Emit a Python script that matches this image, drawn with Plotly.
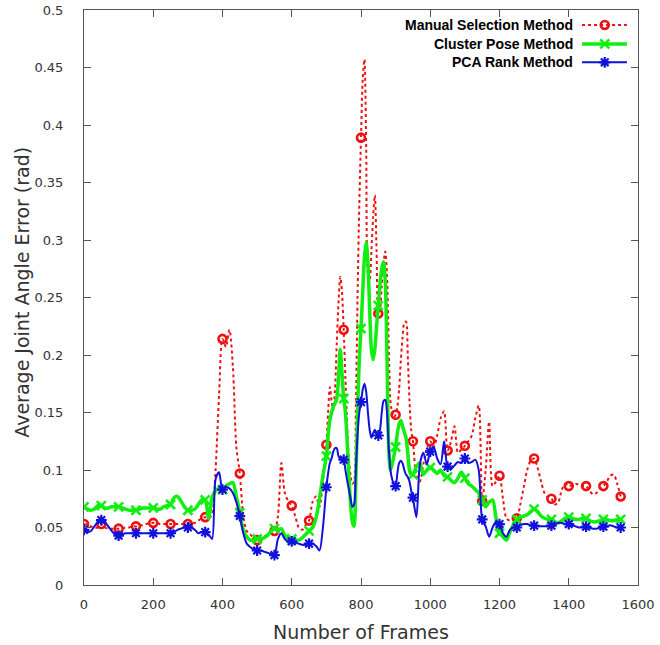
import plotly.graph_objects as go

# ---------------- data ----------------
frames = list(range(0, 700, 10)) + list(range(700, 950, 5)) + list(range(950, 1551, 10))

manual = [
    0.053, 0.052, 0.051, 0.050, 0.050, 0.053, 0.050, 0.049, 0.049, 0.049,
    0.049, 0.049, 0.050, 0.050, 0.051, 0.051, 0.052, 0.052, 0.053, 0.054,
    0.054, 0.054, 0.053, 0.053, 0.053, 0.053, 0.053, 0.053, 0.053, 0.053,
    0.053, 0.054, 0.054, 0.056, 0.058, 0.059, 0.058, 0.062, 0.100, 0.165,
    0.214, 0.207, 0.222, 0.190, 0.120, 0.097, 0.060, 0.047, 0.044, 0.041,
    0.039, 0.040, 0.042, 0.044, 0.046, 0.047, 0.060, 0.106, 0.080, 0.073,
    0.069, 0.060, 0.050, 0.048, 0.052, 0.056, 0.072, 0.077, 0.068, 0.090,
    # 700-945 step 5
    0.122, 0.150, 0.172, 0.160, 0.152, 0.170, 0.210, 0.245, 0.268, 0.255,
    0.222, 0.180, 0.140, 0.110, 0.095, 0.088, 0.090, 0.150, 0.250, 0.330,
    0.389, 0.440, 0.457, 0.380, 0.270, 0.265, 0.290, 0.320, 0.339, 0.290,
    0.236, 0.240, 0.260, 0.280, 0.290, 0.270, 0.210, 0.160, 0.150, 0.146,
    0.148, 0.155, 0.170, 0.195, 0.215, 0.228, 0.229, 0.200, 0.160, 0.135,
    # 950-1550
    0.125, 0.095, 0.090, 0.105, 0.118, 0.125, 0.120, 0.130, 0.145, 0.151,
    0.117, 0.125, 0.138, 0.115, 0.118, 0.121, 0.125, 0.130, 0.145, 0.156,
    0.073, 0.100, 0.142, 0.086, 0.090, 0.095, 0.075, 0.058, 0.056, 0.057,
    0.058, 0.070, 0.085, 0.100, 0.108, 0.110, 0.102, 0.090, 0.080, 0.076,
    0.075, 0.070, 0.072, 0.083, 0.088, 0.086, 0.087, 0.088, 0.087, 0.086,
    0.086, 0.082, 0.079, 0.080, 0.084, 0.086, 0.090, 0.095, 0.096, 0.088, 0.077,
]

cluster = [
    0.068, 0.066, 0.065, 0.066, 0.069, 0.069, 0.067, 0.067, 0.068, 0.068,
    0.068, 0.067, 0.066, 0.065, 0.065, 0.065, 0.066, 0.067, 0.067, 0.067,
    0.067, 0.066, 0.066, 0.068, 0.069, 0.070, 0.076, 0.077, 0.073, 0.068,
    0.065, 0.065, 0.066, 0.070, 0.074, 0.074, 0.058, 0.076, 0.082, 0.084,
    0.083, 0.086, 0.088, 0.089, 0.077, 0.063, 0.048, 0.042, 0.039, 0.039,
    0.040, 0.040, 0.041, 0.043, 0.047, 0.049, 0.048, 0.049, 0.043, 0.041,
    0.040, 0.039, 0.039, 0.041, 0.044, 0.047, 0.050, 0.058, 0.075, 0.095,
    # 700-945 step 5
    0.112, 0.130, 0.143, 0.150, 0.155, 0.158, 0.162, 0.180, 0.205, 0.185,
    0.162, 0.150, 0.125, 0.095, 0.070, 0.055, 0.051, 0.090, 0.150, 0.195,
    0.223, 0.255, 0.285, 0.298, 0.280, 0.240, 0.205, 0.196, 0.205, 0.225,
    0.243, 0.262, 0.275, 0.281, 0.265, 0.200, 0.120, 0.100, 0.105, 0.112,
    0.120, 0.132, 0.140, 0.143, 0.138, 0.133, 0.128, 0.115, 0.100, 0.096,
    # 950-1550
    0.096, 0.103, 0.106, 0.096, 0.100, 0.102, 0.100, 0.097, 0.100, 0.095,
    0.094, 0.091, 0.089, 0.093, 0.098, 0.093, 0.088, 0.086, 0.083, 0.080,
    0.074, 0.068, 0.072, 0.074, 0.058, 0.045, 0.042, 0.039, 0.046, 0.052,
    0.057, 0.059, 0.060, 0.061, 0.064, 0.066, 0.064, 0.060, 0.058, 0.057,
    0.057, 0.055, 0.054, 0.056, 0.058, 0.059, 0.058, 0.057, 0.057, 0.058,
    0.058, 0.056, 0.055, 0.055, 0.056, 0.057, 0.057, 0.056, 0.056, 0.057, 0.057,
]

pca = [
    0.048, 0.046, 0.047, 0.051, 0.055, 0.0565, 0.055, 0.051, 0.047, 0.044,
    0.043, 0.044, 0.045, 0.045, 0.045, 0.045, 0.045, 0.045, 0.045, 0.045,
    0.045, 0.045, 0.045, 0.045, 0.045, 0.045, 0.046, 0.048, 0.049, 0.050,
    0.050, 0.050, 0.048, 0.045, 0.046, 0.046, 0.044, 0.040, 0.092, 0.098,
    0.083, 0.085, 0.084, 0.080, 0.072, 0.060, 0.045, 0.036, 0.033, 0.031,
    0.030, 0.030, 0.029, 0.028, 0.027, 0.026, 0.040, 0.045, 0.040, 0.038,
    0.038, 0.037, 0.036, 0.035, 0.035, 0.036, 0.036, 0.034, 0.030, 0.050,
    # 700-945 step 5
    0.085, 0.097, 0.106, 0.110, 0.116, 0.119, 0.119, 0.112, 0.110, 0.110,
    0.109, 0.100, 0.091, 0.083, 0.075, 0.068, 0.070, 0.100, 0.130, 0.150,
    0.159, 0.170, 0.175, 0.168, 0.150, 0.135, 0.128, 0.132, 0.135, 0.132,
    0.130, 0.135, 0.150, 0.160, 0.161, 0.150, 0.120, 0.100, 0.092, 0.088,
    0.086, 0.097, 0.106, 0.108, 0.106, 0.100, 0.096, 0.094, 0.090, 0.082,
    # 950-1550
    0.076, 0.059, 0.105, 0.115, 0.105, 0.116, 0.120, 0.110, 0.105, 0.125,
    0.103, 0.101, 0.104, 0.107, 0.106, 0.110, 0.106, 0.107, 0.109, 0.100,
    0.057, 0.051, 0.042, 0.050, 0.055, 0.053, 0.045, 0.042, 0.048, 0.050,
    0.050, 0.052, 0.053, 0.053, 0.052, 0.0516, 0.051, 0.051, 0.051, 0.051,
    0.0516, 0.053, 0.054, 0.054, 0.053, 0.053, 0.052, 0.051, 0.050, 0.050,
    0.0507, 0.050, 0.049, 0.049, 0.050, 0.0507, 0.051, 0.052, 0.051, 0.050, 0.050,
]

x_ticks = [0, 200, 400, 600, 800, 1000, 1200, 1400, 1600]
y_ticks = [0, 0.05, 0.1, 0.15, 0.2, 0.25, 0.3, 0.35, 0.4, 0.45, 0.5]
y_tick_text = ["0", "0.05", "0.1", "0.15", "0.2", "0.25", "0.3", "0.35", "0.4", "0.45", "0.5"]

series_names = ["Manual Selection Method", "Cluster Pose Method", "PCA Rank Method"]

# ---------------- styles ----------------
RED = "#ee1111"
GREEN = "#11ee11"
BLUE = "#1111dd"

styles = [
    dict(color=RED, width=2, dash="dot", symbol="circle-open", msize=8, mline=2.6),
    dict(color=GREEN, width=3.5, dash="solid", symbol="x-thin-open", msize=9, mline=2.6),
    dict(color=BLUE, width=2, dash="solid", symbol="asterisk-open", msize=9, mline=2.2),
]

fig = go.Figure()
mark_idx = [i for i, f in enumerate(frames) if f % 50 == 0]

for vals, st in zip([manual, cluster, pca], styles):
    fig.add_trace(go.Scatter(
        x=frames, y=vals, mode="lines",
        line=dict(color=st["color"], width=st["width"], dash=st["dash"], shape="spline", smoothing=0.8),
        showlegend=False, hoverinfo="skip"))
    fig.add_trace(go.Scatter(
        x=[frames[i] for i in mark_idx], y=[vals[i] for i in mark_idx], mode="markers",
        marker=dict(symbol=st["symbol"], size=st["msize"], color=st["color"],
                    line=dict(color=st["color"], width=st["mline"])),
        showlegend=False, hoverinfo="skip"))

# ---------------- legend (text left, sample right) drawn on overlay axes ----------------
leg_rows = [0.974, 0.941, 0.909]
for name, st, yr in zip(series_names, styles, leg_rows):
    fig.add_trace(go.Scatter(
        x=[0.899, 0.980], y=[yr, yr], mode="lines", xaxis="x2", yaxis="y2",
        line=dict(color=st["color"], width=st["width"], dash=st["dash"]),
        showlegend=False, hoverinfo="skip"))
    fig.add_trace(go.Scatter(
        x=[0.940], y=[yr], mode="markers", xaxis="x2", yaxis="y2",
        marker=dict(symbol=st["symbol"], size=st["msize"], color=st["color"],
                    line=dict(color=st["color"], width=st["mline"])),
        showlegend=False, hoverinfo="skip"))
    fig.add_annotation(x=0.886, y=yr, xref="paper", yref="paper", text="<b>" + name + "</b>",
                       showarrow=False, xanchor="right", yanchor="middle",
                       font=dict(family="Liberation Sans, Arial", size=14, color="#000"))

# axis titles as annotations for exact placement
fig.add_annotation(x=0.5, y=-0.082, xref="paper", yref="paper", text="Number of Frames",
                   showarrow=False, xanchor="center", yanchor="middle",
                   font=dict(family="DejaVu Sans", size=19, color="#333"))
fig.add_annotation(x=-0.112, y=0.51, xref="paper", yref="paper", text="Average Joint Angle Error (rad)",
                   showarrow=False, xanchor="center", yanchor="middle", textangle=-90,
                   font=dict(family="DejaVu Sans", size=19, color="#333"))

axis_common = dict(showline=True, linecolor="#555", linewidth=1, mirror="allticks",
                   ticks="inside", ticklen=7, tickcolor="#555", showgrid=False, zeroline=False,
                   automargin=False,
                   tickfont=dict(family="DejaVu Sans", size=13, color="#333"))

fig.update_layout(
    width=660, height=645,
    margin=dict(l=84, r=22, t=10, b=60),
    paper_bgcolor="white", plot_bgcolor="white",
    showlegend=False,
    xaxis=dict(range=[0, 1600], tickvals=x_ticks, ticktext=[str(v) for v in x_ticks],
               ticklabelstandoff=7, **axis_common),
    yaxis=dict(range=[0, 0.5], tickvals=y_ticks, ticktext=y_tick_text,
               ticklabelstandoff=17, **axis_common),
    xaxis2=dict(range=[0, 1], overlaying="x", visible=False, anchor="y2"),
    yaxis2=dict(range=[0, 1], overlaying="y", visible=False, anchor="x2"),
)

# remove the browser's default 8px page margin so the figure sits at the window origin
fig.write_html("out.html",
               config={"displayModeBar": False, "staticPlot": True},
               post_script="document.body.style.margin='0px'; document.body.style.overflow='hidden';")
